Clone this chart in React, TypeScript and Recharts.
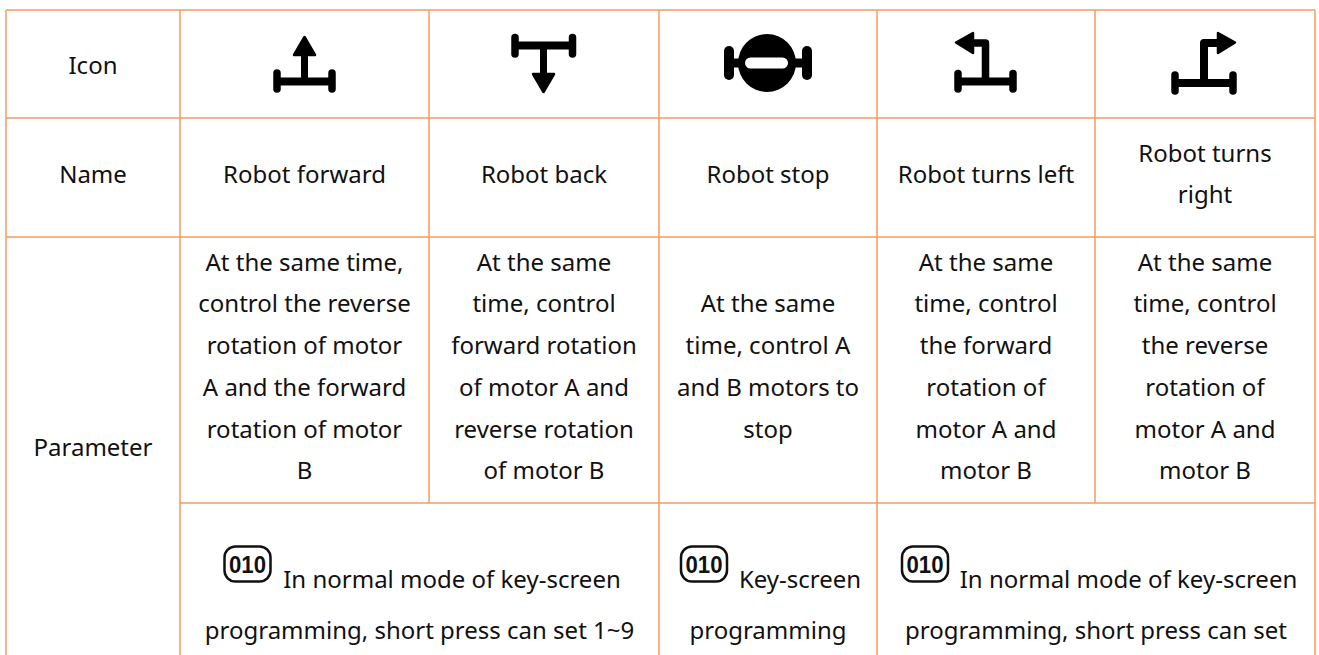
import { ScatterChart, Scatter, XAxis, YAxis, ReferenceLine } from 'recharts';

const WIDTH = 1319;
const HEIGHT = 655;
const FONT = '"Noto Sans", sans-serif';
const BORDER = '#f8995f';

// table structure, in picture units (the last row runs past the bottom of the picture)
const columnEdges = [6, 180, 429, 659, 877, 1095, 1315];
const rowEdges = [10, 118, 237, 503, 657];

const rowLabels = ['Icon', 'Name', 'Parameter'];
const rowLabelShift = [4.5, 0, 3];
const iconKinds = ['forward', 'back', 'stop', 'left', 'right'];
const names = [['Robot forward'], ['Robot back'], ['Robot stop'], ['Robot turns left'], ['Robot turns', 'right']];
const parameters = [
    ['At the same time,', 'control the reverse', 'rotation of motor', 'A and the forward', 'rotation of motor', 'B'],
    ['At the same', 'time, control', 'forward rotation', 'of motor A and', 'reverse rotation', 'of motor B'],
    ['At the same', 'time, control A', 'and B motors to', 'stop'],
    ['At the same', 'time, control', 'the forward', 'rotation of', 'motor A and', 'motor B'],
    ['At the same', 'time, control', 'the reverse', 'rotation of', 'motor A and', 'motor B'],
];
const notes = [
    { first: 1, last: 3, lines: ['In normal mode of key-screen', 'programming, short press can set 1~9'] },
    { first: 3, last: 4, lines: ['Key-screen', 'programming'] },
    { first: 4, last: 6, lines: ['In normal mode of key-screen', 'programming, short press can set'] },
];

const LINE_PITCH = 41.7;
const NOTE_PITCH = 51;
const NOTE_FIRST_LINE = 582.5;
const noteTextShift = [32.5, 32, 32.5];
const badgeShift = [-172, -64, -171];
const BADGE_Y = 564;

const mid = (a: number, b: number) => (a + b) / 2;

function linesInCell(lines: string[], x: number, top: number, bottom: number) {
    const start = mid(top, bottom) - ((lines.length - 1) * LINE_PITCH) / 2;
    return lines.map((text, i) => ({ x, y: start + i * LINE_PITCH - 0.5, text }));
}

const textPoints = [
    ...rowLabels.map((text, i) => {
        const top = rowEdges[i];
        const bottom = i === 2 ? rowEdges[4] : rowEdges[i + 1];
        return { x: mid(columnEdges[0], columnEdges[1]), y: mid(top, bottom) + rowLabelShift[i], text };
    }),
    ...names.flatMap((lines, c) => linesInCell(lines, mid(columnEdges[c + 1], columnEdges[c + 2]), rowEdges[1], rowEdges[2])),
    ...parameters.flatMap((lines, c) => linesInCell(lines, mid(columnEdges[c + 1], columnEdges[c + 2]), rowEdges[2], rowEdges[3])),
    ...notes.flatMap((note, n) =>
        note.lines.map((text, i) => ({
            x: mid(columnEdges[note.first], columnEdges[note.last]) + (i === 0 ? noteTextShift[n] : 0),
            y: NOTE_FIRST_LINE + i * NOTE_PITCH,
            text,
        })),
    ),
];

const iconPoints = iconKinds.map((kind, c) => ({
    x: mid(columnEdges[c + 1], columnEdges[c + 2]),
    y: mid(rowEdges[0], rowEdges[1]),
    kind,
}));

const badgePoints = notes.map((note, n) => ({
    x: mid(columnEdges[note.first], columnEdges[note.last]) + badgeShift[n],
    y: BADGE_Y,
}));

const gridSegments = [
    ...[rowEdges[0], rowEdges[1], rowEdges[2]].map((y) => [{ x: columnEdges[0], y }, { x: columnEdges[6], y }]),
    [{ x: columnEdges[1], y: rowEdges[3] }, { x: columnEdges[6], y: rowEdges[3] }],
    ...[columnEdges[0], columnEdges[1], columnEdges[3], columnEdges[4], columnEdges[6]].map((x) => [{ x, y: rowEdges[0] }, { x, y: rowEdges[4] }]),
    ...[columnEdges[2], columnEdges[5]].map((x) => [{ x, y: rowEdges[0] }, { x, y: rowEdges[3] }]),
];

const CellText = ({ cx, cy, payload }: any) => (
    <text x={cx} y={cy} dy={5.5} textAnchor="middle" fontFamily={FONT} fontSize={24} fill="#111">
        {payload.text}
    </text>
);

const Axle = ({ y, left, right, top, bottom }: any) => (
    <g stroke="#000" strokeLinecap="round" fill="none">
        <line x1={left} y1={y} x2={right} y2={y} strokeWidth={8} strokeLinecap="butt" />
        <line x1={left} y1={top} x2={left} y2={bottom} strokeWidth={7.5} />
        <line x1={right} y1={top} x2={right} y2={bottom} strokeWidth={7.5} />
    </g>
);

const Head = ({ points }: any) => <polygon points={points} fill="#000" stroke="#000" strokeWidth={2.5} strokeLinejoin="round" />;

const RobotIcon = ({ cx, cy, payload }: any) => (
    <g transform={`translate(${cx},${cy})`}>
        {payload.kind === 'forward' && (
            <>
                <Axle y={17.5} left={-27.5} right={27.5} top={9} bottom={25} />
                <line x1={0} y1={17} x2={0} y2={-10} stroke="#000" strokeWidth={7} />
                <Head points="0,-27 -10.5,-9 10.5,-9" />
            </>
        )}
        {payload.kind === 'back' && (
            <>
                <Axle y={-18.5} left={-29} right={28.5} top={-26.5} bottom={-10} />
                <line x1={-0.5} y1={-18} x2={-0.5} y2={10} stroke="#000" strokeWidth={7} />
                <Head points="-0.5,28 -11,10 10,10" />
            </>
        )}
        {payload.kind === 'stop' && (
            <>
                <line x1={-39} y1={-1} x2={39} y2={-1} stroke="#000" strokeWidth={9} />
                <line x1={-39} y1={-13} x2={-39} y2={11} stroke="#000" strokeWidth={10} strokeLinecap="round" />
                <line x1={39} y1={-13} x2={39} y2={11} stroke="#000" strokeWidth={10} strokeLinecap="round" />
                <circle cx={-1} cy={-1} r={29} fill="#000" />
                <rect x={-23} y={-6.5} width={43} height={11} rx={5.5} fill="#fff" />
            </>
        )}
        {payload.kind === 'left' && (
            <>
                <Axle y={17.5} left={-28} right={27} top={9.5} bottom={25} />
                <path d="M-0.5,18 V-21 H-13" fill="none" stroke="#000" strokeWidth={7.5} strokeLinejoin="round" />
                <Head points="-30,-21.5 -13,-31 -13,-11" />
            </>
        )}
        {payload.kind === 'right' && (
            <>
                <Axle y={19} left={-30} right={28} top={11} bottom={27} />
                <path d="M-1,19 V-21 H13" fill="none" stroke="#000" strokeWidth={8} strokeLinejoin="round" />
                <Head points="30,-21.5 13,-31 13,-11" />
            </>
        )}
    </g>
);

const Badge = ({ cx, cy }: any) => (
    <g>
        <rect x={cx - 23} y={cy - 17.5} width={46} height={35} rx={11} fill="#fff" stroke="#111" strokeWidth={2.5} />
        <text x={cx} y={cy} dy={8.5} textAnchor="middle" fontFamily='"Liberation Sans", sans-serif' fontWeight={700} fontSize={24} textLength={37} lengthAdjust="spacingAndGlyphs" fill="#111">
            010
        </text>
    </g>
);

export default function App() {
    return (
        <div style={{ position: 'fixed', left: 0, top: 0, background: '#fff' }}>
            <ScatterChart width={WIDTH} height={HEIGHT} margin={{ top: 0, right: 0, bottom: 0, left: 0 }}>
                <XAxis type="number" dataKey="x" domain={[0, WIDTH]} hide />
                <YAxis type="number" dataKey="y" domain={[0, HEIGHT]} reversed hide />
                {gridSegments.map((segment, i) => (
                    <ReferenceLine key={i} segment={segment} stroke={BORDER} strokeWidth={1.5} ifOverflow="visible" />
                ))}
                <Scatter data={textPoints} shape={CellText} isAnimationActive={false} />
                <Scatter data={iconPoints} shape={RobotIcon} isAnimationActive={false} />
                <Scatter data={badgePoints} shape={Badge} isAnimationActive={false} />
            </ScatterChart>
        </div>
    );
}
